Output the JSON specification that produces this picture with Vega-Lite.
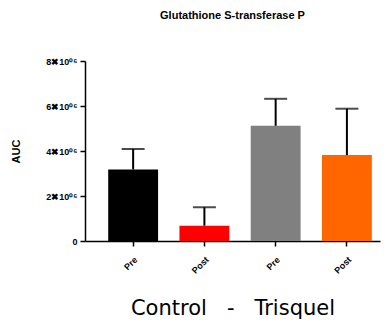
{
  "$schema": "https://vega.github.io/schema/vega-lite/v6.json",
  "autosize": {"type": "none"},
  "padding": {"left": 85, "top": 61, "right": 8, "bottom": 79},
  "width": 295,
  "height": 180,
  "background": "white",
  "title": {
    "text": "Glutathione S-transferase P",
    "font": "Liberation Sans",
    "fontSize": 11,
    "fontWeight": "bold",
    "anchor": "middle",
    "offset": 36,
    "color": "#000000"
  },
  "data": {
    "values": [
      {"cond": "Control Pre", "value": 3180000, "upper": 4090000},
      {"cond": "Control Post", "value": 680000, "upper": 1500000},
      {"cond": "Trisquel Pre", "value": 5120000, "upper": 6320000},
      {"cond": "Trisquel Post", "value": 3820000, "upper": 5880000}
    ]
  },
  "encoding": {
    "x": {
      "field": "cond",
      "type": "nominal",
      "sort": null,
      "scale": {"paddingInner": 0.3, "paddingOuter": 0.22, "align": 0.74},
      "axis": {
        "title": "Control\u00a0\u00a0\u00a0-\u00a0\u00a0\u00a0Trisquel",
        "titleFont": "DejaVu Sans",
        "titleFontSize": 21,
        "titleFontWeight": "normal",
        "titleColor": "#000000",
        "titlePadding": 22,
        "labelExpr": "split(datum.label, ' ')[1]",
        "labelAngle": -45,
        "labelFont": "Liberation Sans",
        "labelFontSize": 9,
        "labelFontWeight": "bold",
        "labelColor": "#000000",
        "labelPadding": 9,
        "domainColor": "#000000",
        "domainWidth": 1.5,
        "tickColor": "#000000",
        "tickWidth": 1.5,
        "tickSize": 5
      }
    }
  },
  "layer": [
    {
      "mark": {"type": "bar"},
      "encoding": {
        "y": {
          "field": "value",
          "type": "quantitative",
          "scale": {"domain": [0, 8000000], "nice": false},
          "axis": {
            "title": "AUC",
            "titleFont": "Liberation Sans",
            "titleFontSize": 11,
            "titleFontWeight": "bold",
            "titleColor": "#000000",
            "titlePadding": 24,
            "values": [0, 2000000, 4000000, 6000000, 8000000],
            "labelExpr": "datum.value == 0 ? '0' : (datum.value / 1000000) + '✖10⁰⁶'",
            "labelFont": "Liberation Sans",
            "labelFontSize": 9,
            "labelFontWeight": "bold",
            "labelColor": "#000000",
            "labelPadding": 3,
            "grid": false,
            "domainColor": "#000000",
            "domainWidth": 1.5,
            "tickColor": "#000000",
            "tickWidth": 1.5,
            "tickSize": 5
          }
        },
        "color": {
          "field": "cond",
          "type": "nominal",
          "scale": {
            "domain": ["Control Pre", "Control Post", "Trisquel Pre", "Trisquel Post"],
            "range": ["#000000", "#ff0000", "#808080", "#ff6600"]
          },
          "legend": null
        }
      }
    },
    {
      "mark": {"type": "rule", "color": "#000000", "strokeWidth": 2},
      "encoding": {
        "y": {"field": "value", "type": "quantitative"},
        "y2": {"field": "upper"}
      }
    },
    {
      "mark": {"type": "tick", "color": "#000000", "thickness": 2, "size": 23, "orient": "horizontal"},
      "encoding": {
        "y": {"field": "upper", "type": "quantitative"}
      }
    }
  ],
  "config": {
    "view": {"stroke": null}
  }
}
